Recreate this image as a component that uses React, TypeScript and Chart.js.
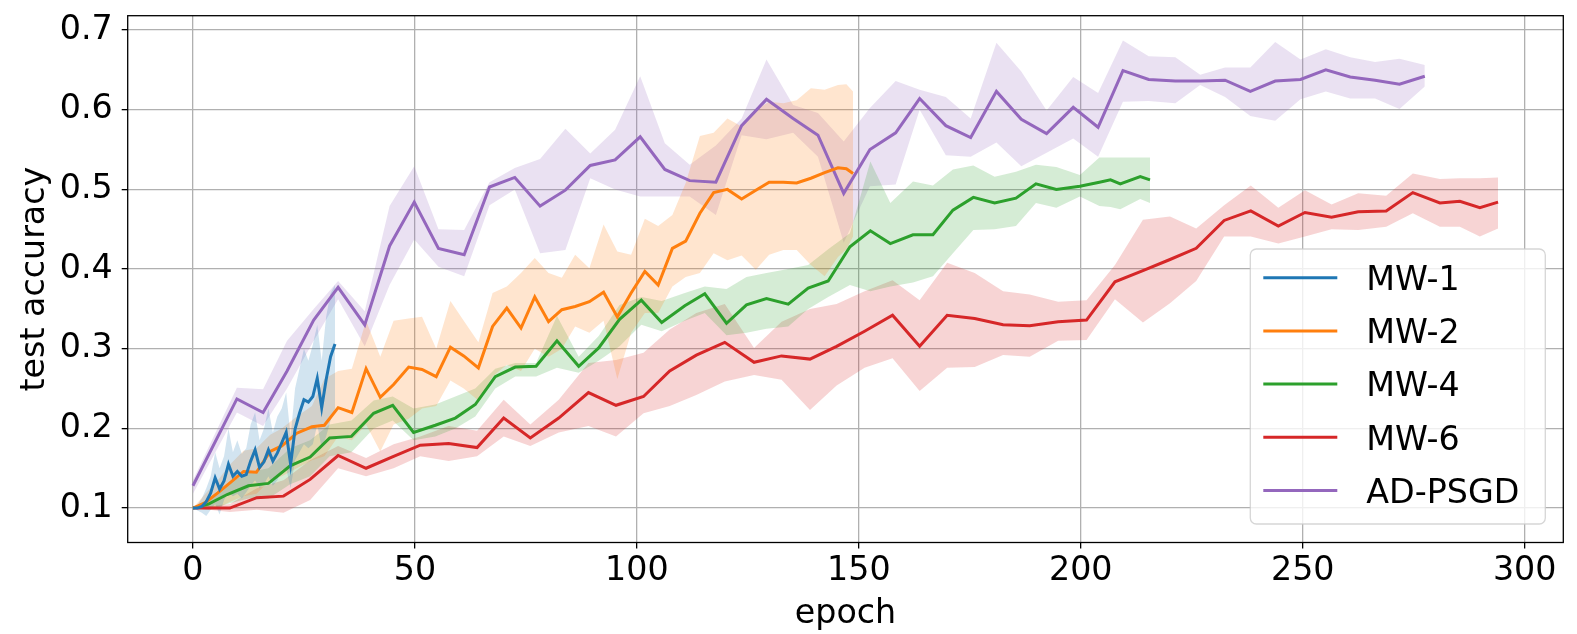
import { useEffect, useRef } from "react";
import Chart from "chart.js/auto";

// x-axis ticks / y-axis ticks
const epochTicks = [0, 50, 100, 150, 200, 250, 300];
const accTicks = [0.1, 0.2, 0.3, 0.4, 0.5, 0.6, 0.7];

const seriesNames = ["MW-1", "MW-2", "MW-4", "MW-6", "AD-PSGD"];
const seriesColors = ["#1f77b4", "#ff7f0e", "#2ca02c", "#d62728", "#9467bd"];

// MW-1
const mw1Epochs = [0, 1, 2, 3, 4, 5, 6, 7, 8, 9, 10, 11, 12, 13, 14, 15, 16, 17, 18, 19, 20, 21, 22, 23, 24, 25, 26, 27, 28, 29, 30, 31, 32];
const mw1Mean = [0.1, 0.1, 0.102, 0.108, 0.119, 0.138, 0.124, 0.134, 0.155, 0.14, 0.146, 0.14, 0.142, 0.159, 0.173, 0.151, 0.158, 0.173, 0.159, 0.169, 0.182, 0.195, 0.155, 0.199, 0.219, 0.236, 0.233, 0.24, 0.263, 0.226, 0.261, 0.29, 0.306];
const mw1Lo = [0.1, 0.097, 0.094, 0.09, 0.098, 0.105, 0.092, 0.11, 0.12, 0.115, 0.118, 0.112, 0.12, 0.128, 0.135, 0.125, 0.13, 0.14, 0.128, 0.135, 0.148, 0.15, 0.125, 0.16, 0.17, 0.18, 0.175, 0.18, 0.205, 0.175, 0.19, 0.21, 0.225];
const mw1Hi = [0.1, 0.104, 0.112, 0.125, 0.14, 0.17, 0.15, 0.165, 0.2, 0.17, 0.185, 0.168, 0.175, 0.205, 0.22, 0.185, 0.2, 0.225, 0.195, 0.215, 0.225, 0.245, 0.19, 0.25, 0.275, 0.3, 0.285, 0.305, 0.33, 0.285, 0.34, 0.37, 0.38];

// MW-2
const mw2Epochs = [0, 2.8, 5.6, 8.4, 11.4, 14.3, 17.4, 20, 23.4, 26.8, 29.6, 32.7, 35.8, 39, 42.2, 45.2, 48.6, 51.6, 54.8, 58, 61, 64.3, 67.5, 70.7, 73.9, 77, 80.1, 83.1, 86.1, 89.3, 92.5, 95.6, 98.7, 101.8, 104.8, 108, 111, 114.2, 117.3, 120.4, 123.6, 126.8, 129.8, 133, 136, 139.2, 142.3, 145.3, 147.2, 148.7];
const mw2Mean = [0.1, 0.107, 0.119, 0.132, 0.146, 0.145, 0.171, 0.178, 0.194, 0.202, 0.204, 0.226, 0.22, 0.275, 0.239, 0.255, 0.277, 0.274, 0.265, 0.302, 0.291, 0.276, 0.328, 0.351, 0.326, 0.365, 0.334, 0.349, 0.353, 0.359, 0.371, 0.34, 0.37, 0.397, 0.38, 0.426, 0.435, 0.47, 0.496, 0.5, 0.488, 0.499, 0.509, 0.509, 0.508, 0.514, 0.521, 0.527, 0.526, 0.52];
const mw2Lo = [0.1, 0.098, 0.1, 0.108, 0.115, 0.118, 0.135, 0.14, 0.15, 0.16, 0.165, 0.19, 0.185, 0.205, 0.171, 0.205, 0.212, 0.225, 0.228, 0.26, 0.25, 0.235, 0.265, 0.28, 0.272, 0.3, 0.29, 0.3, 0.328, 0.32, 0.335, 0.262, 0.32, 0.345, 0.345, 0.378, 0.39, 0.395, 0.42, 0.411, 0.417, 0.399, 0.418, 0.424, 0.424, 0.405, 0.391, 0.415, 0.425, 0.441];
const mw2Hi = [0.1, 0.118, 0.135, 0.155, 0.172, 0.175, 0.192, 0.2, 0.215, 0.228, 0.262, 0.272, 0.275, 0.335, 0.29, 0.335, 0.338, 0.34, 0.3, 0.36, 0.335, 0.308, 0.37, 0.378, 0.395, 0.414, 0.395, 0.389, 0.418, 0.401, 0.456, 0.422, 0.418, 0.463, 0.454, 0.468, 0.508, 0.567, 0.571, 0.589, 0.579, 0.6, 0.61, 0.608, 0.612, 0.627, 0.625, 0.631, 0.632, 0.623];

// MW-4
const mw4Epochs = [0, 3.5, 7.7, 12.5, 17, 21.9, 26.4, 30.8, 35.7, 40.7, 45, 49.7, 54.6, 59.1, 63.6, 68.1, 72.6, 77.3, 82, 86.9, 91.4, 96.1, 101, 105.6, 110.8, 115.3, 120.2, 124.7, 129.2, 134.1, 138.6, 143.1, 148, 152.6, 157.1, 162.2, 166.7, 171.2, 175.8, 180.6, 185.4, 189.9, 194.5, 199.8, 204.2, 206.7, 208.9, 213.4, 215.6];
const mw4Mean = [0.1, 0.105, 0.117, 0.128, 0.131, 0.153, 0.164, 0.188, 0.19, 0.219, 0.229, 0.195, 0.204, 0.213, 0.23, 0.265, 0.277, 0.278, 0.31, 0.278, 0.301, 0.337, 0.361, 0.333, 0.354, 0.369, 0.332, 0.355, 0.363, 0.356, 0.376, 0.385, 0.428, 0.448, 0.432, 0.443, 0.443, 0.474, 0.49, 0.483, 0.489, 0.507, 0.5, 0.504, 0.509, 0.512, 0.507, 0.516, 0.512];
const mw4Lo = [0.1, 0.098, 0.105, 0.112, 0.112, 0.13, 0.14, 0.165, 0.17, 0.2, 0.21, 0.185, 0.19, 0.2, 0.215, 0.25, 0.265, 0.265, 0.276, 0.27, 0.285, 0.303, 0.33, 0.322, 0.335, 0.345, 0.317, 0.32, 0.325, 0.328, 0.35, 0.365, 0.38, 0.372, 0.378, 0.383, 0.391, 0.42, 0.449, 0.45, 0.454, 0.483, 0.477, 0.491, 0.479, 0.478, 0.475, 0.488, 0.483];
const mw4Hi = [0.1, 0.112, 0.13, 0.145, 0.15, 0.175, 0.185, 0.205, 0.21, 0.235, 0.24, 0.225, 0.23, 0.24, 0.25, 0.275, 0.282, 0.282, 0.341, 0.29, 0.316, 0.355, 0.365, 0.36, 0.37, 0.378, 0.375, 0.39, 0.395, 0.4, 0.405, 0.425, 0.445, 0.535, 0.483, 0.51, 0.505, 0.525, 0.53, 0.516, 0.522, 0.531, 0.528, 0.518, 0.54, 0.54, 0.54, 0.54, 0.54];

// MW-6
const mw6Epochs = [0, 8.3, 14.4, 20.4, 26.4, 32.7, 39, 45.2, 51.2, 57.6, 64, 70, 76, 82.4, 89.1, 95.3, 101.5, 107.4, 113.4, 119.8, 126.4, 132.6, 139, 145, 151.3, 157.6, 163.7, 169.9, 176.1, 182.5, 188.5, 194.9, 201.3, 207.7, 214, 220.1, 226, 232.3, 238.3, 244.5, 250.5, 256.5, 262.5, 268.8, 274.8, 280.9, 285.4, 289.9, 294];
const mw6Mean = [0.1, 0.1, 0.113, 0.115, 0.136, 0.166, 0.15, 0.165, 0.179, 0.181, 0.176, 0.213, 0.188, 0.213, 0.245, 0.229, 0.24, 0.272, 0.292, 0.308, 0.283, 0.291, 0.287, 0.303, 0.322, 0.342, 0.303, 0.342, 0.338, 0.33, 0.329, 0.334, 0.336, 0.384, 0.398, 0.412, 0.426, 0.461, 0.473, 0.454, 0.471, 0.465, 0.472, 0.473, 0.496, 0.483, 0.485, 0.477, 0.484];
const mw6Lo = [0.1, 0.095, 0.098, 0.094, 0.11, 0.15, 0.14, 0.15, 0.165, 0.159, 0.165, 0.19, 0.178, 0.195, 0.203, 0.19, 0.219, 0.228, 0.242, 0.259, 0.267, 0.261, 0.223, 0.254, 0.276, 0.288, 0.247, 0.276, 0.277, 0.292, 0.29, 0.31, 0.311, 0.362, 0.333, 0.357, 0.385, 0.441, 0.441, 0.432, 0.441, 0.45, 0.449, 0.453, 0.47, 0.453, 0.453, 0.441, 0.451];
const mw6Hi = [0.1, 0.105, 0.125, 0.135, 0.16, 0.178, 0.163, 0.18, 0.19, 0.203, 0.197, 0.236, 0.205, 0.236, 0.282, 0.286, 0.295, 0.324, 0.345, 0.356, 0.301, 0.334, 0.35, 0.356, 0.372, 0.386, 0.361, 0.408, 0.395, 0.372, 0.368, 0.359, 0.361, 0.405, 0.462, 0.466, 0.451, 0.48, 0.505, 0.477, 0.499, 0.481, 0.495, 0.492, 0.52, 0.513, 0.514, 0.514, 0.515];

// AD-PSGD
const adEpochs = [0, 9.9, 15.8, 21.2, 27.2, 32.7, 38.7, 44.3, 49.85, 55.3, 61.1, 66.8, 72.5, 78.2, 83.9, 89.5, 95.1, 100.75, 106.3, 111.9, 117.8, 123.6, 129.2, 135.2, 140.8, 146.6, 152.5, 158.3, 163.7, 169.6, 175.2, 181, 186.6, 192.3, 198.3, 203.9, 209.5, 215.3, 221.3, 226.9, 232.5, 238.2, 243.8, 249.5, 255.2, 260.7, 266.3, 271.8, 277.5];
const adMean = [0.128, 0.237, 0.22, 0.272, 0.336, 0.377, 0.33, 0.429, 0.484, 0.426, 0.418, 0.503, 0.515, 0.479, 0.499, 0.53, 0.537, 0.566, 0.525, 0.511, 0.509, 0.58, 0.613, 0.589, 0.568, 0.495, 0.55, 0.571, 0.614, 0.58, 0.565, 0.623, 0.588, 0.57, 0.603, 0.578, 0.649, 0.638, 0.636, 0.636, 0.637, 0.623, 0.636, 0.638, 0.65, 0.641, 0.637, 0.632, 0.642];
const adLo = [0.118, 0.22, 0.203, 0.25, 0.31, 0.362, 0.303, 0.38, 0.437, 0.403, 0.391, 0.48, 0.5, 0.42, 0.424, 0.514, 0.5, 0.491, 0.491, 0.491, 0.468, 0.568, 0.563, 0.571, 0.541, 0.433, 0.504, 0.506, 0.6, 0.543, 0.541, 0.559, 0.529, 0.546, 0.564, 0.541, 0.61, 0.611, 0.608, 0.631, 0.616, 0.592, 0.586, 0.613, 0.623, 0.614, 0.614, 0.601, 0.629];
const adHi = [0.135, 0.251, 0.249, 0.31, 0.35, 0.385, 0.347, 0.479, 0.529, 0.45, 0.449, 0.509, 0.527, 0.538, 0.576, 0.545, 0.575, 0.642, 0.558, 0.531, 0.555, 0.589, 0.663, 0.606, 0.596, 0.56, 0.602, 0.636, 0.625, 0.616, 0.589, 0.684, 0.648, 0.599, 0.641, 0.621, 0.687, 0.667, 0.666, 0.644, 0.653, 0.653, 0.685, 0.663, 0.676, 0.666, 0.66, 0.664, 0.656];

const allEpochs = [mw1Epochs, mw2Epochs, mw4Epochs, mw6Epochs, adEpochs];
const allMeans = [mw1Mean, mw2Mean, mw4Mean, mw6Mean, adMean];
const allLo = [mw1Lo, mw2Lo, mw4Lo, mw6Lo, adLo];
const allHi = [mw1Hi, mw2Hi, mw4Hi, mw6Hi, adHi];

const FONT = "'DejaVu Sans', sans-serif";
const FONT_SIZE = 33.3;
const LINE_W = 3;

const toPoints = (xs: number[], ys: number[]) => xs.map((x, i) => ({ x, y: ys[i] }));

const hexToRgba = (hex: string, a: number) => {
  const n = parseInt(hex.slice(1), 16);
  return `rgba(${(n >> 16) & 255}, ${(n >> 8) & 255}, ${n & 255}, ${a})`;
};

// full black frame around the axes, like matplotlib spines
const framePlugin = {
  id: "frame",
  afterDatasetsDraw(chart: Chart) {
    const { ctx, chartArea } = chart;
    ctx.save();
    ctx.strokeStyle = "#000";
    ctx.lineWidth = 1.3;
    ctx.strokeRect(chartArea.left, chartArea.top, chartArea.right - chartArea.left, chartArea.bottom - chartArea.top);
    ctx.restore();
  },
};

// legend box in the lower right of the plot area
const boxLegendPlugin = {
  id: "boxLegend",
  afterDraw(chart: Chart) {
    const { ctx, chartArea } = chart;
    const w = 295;
    const h = 275;
    const x0 = chartArea.right - 18 - w;
    const y0 = chartArea.bottom - 18.5 - h;
    ctx.save();
    ctx.beginPath();
    ctx.roundRect(x0, y0, w, h, 6);
    ctx.fillStyle = "rgba(255, 255, 255, 0.8)";
    ctx.fill();
    ctx.strokeStyle = "rgba(204, 204, 204, 0.8)";
    ctx.lineWidth = 1.3;
    ctx.stroke();

    ctx.font = `${FONT_SIZE}px ${FONT}`;
    ctx.textAlign = "left";
    ctx.textBaseline = "alphabetic";
    seriesNames.forEach((name, i) => {
      const y = y0 + 28.7 + i * 53.2;
      ctx.beginPath();
      ctx.moveTo(x0 + 13, y);
      ctx.lineTo(x0 + 87, y);
      ctx.strokeStyle = seriesColors[i];
      ctx.lineWidth = LINE_W;
      ctx.stroke();
      ctx.fillStyle = "#000";
      ctx.fillText(name, x0 + 116, y + 12.2);
    });
    ctx.restore();
  },
};

const AccuracyChart = () => {
  const chartRef = useRef<HTMLCanvasElement>(null);
  const chartInstance = useRef<Chart | null>(null);

  useEffect(() => {
    if (!chartRef.current) return;

    if (chartInstance.current) {
      chartInstance.current.destroy();
    }

    const ctx = chartRef.current.getContext("2d");
    if (!ctx) return;

    const lineSets = seriesNames.map((name, i) => ({
      label: name,
      data: toPoints(allEpochs[i], allMeans[i]),
      borderColor: seriesColors[i],
      borderWidth: LINE_W,
      pointRadius: 0,
      fill: false,
      order: 0,
    }));

    const bandSets = seriesNames.flatMap((name, i) => [
      {
        label: `${name} hi`,
        data: toPoints(allEpochs[i], allHi[i]),
        borderWidth: 0,
        borderColor: "rgba(0,0,0,0)",
        pointRadius: 0,
        backgroundColor: hexToRgba(seriesColors[i], 0.2),
        fill: "+1",
        order: 5,
      },
      {
        label: `${name} lo`,
        data: toPoints(allEpochs[i], allLo[i]),
        borderWidth: 0,
        borderColor: "rgba(0,0,0,0)",
        pointRadius: 0,
        fill: false,
        order: 5,
      },
    ]);

    const tickFont = { family: FONT, size: FONT_SIZE };

    chartInstance.current = new Chart(ctx, {
      type: "line",
      data: { datasets: [...lineSets, ...bandSets] as any },
      options: {
        animation: false,
        responsive: true,
        maintainAspectRatio: false,
        layout: { padding: { top: 15.7, right: 13.7, left: 0, bottom: 0 } },
        elements: { line: { tension: 0 } },
        plugins: {
          legend: { display: false },
          tooltip: { enabled: false },
        },
        scales: {
          x: {
            type: "linear",
            min: -14.7,
            max: 308.7,
            afterBuildTicks: (scale: any) => {
              scale.ticks = epochTicks.map((value) => ({ value }));
            },
            afterFit: (scale: any) => {
              scale.height = 91.5;
              scale.paddingLeft = 0;
              scale.paddingRight = 0;
            },
            grid: {
              color: "#b0b0b0",
              lineWidth: 1.3,
              tickColor: "#000",
              tickLength: 6,
              tickWidth: 1.3,
            },
            border: { display: false },
            ticks: {
              font: tickFont,
              color: "#000",
              padding: 3,
              maxRotation: 0,
              autoSkip: false,
            },
            title: {
              display: true,
              text: "epoch",
              font: tickFont,
              color: "#000",
              padding: { top: 0, bottom: 0 },
            },
          },
          y: {
            type: "linear",
            min: 0.0568,
            max: 0.718,
            afterBuildTicks: (scale: any) => {
              scale.ticks = accTicks.map((value) => ({ value }));
            },
            afterFit: (scale: any) => {
              scale.width = 127.7;
              scale.paddingTop = 0;
              scale.paddingBottom = 0;
            },
            grid: {
              color: "#b0b0b0",
              lineWidth: 1.3,
              tickColor: "#000",
              tickLength: 6,
              tickWidth: 1.3,
            },
            border: { display: false },
            ticks: {
              font: tickFont,
              color: "#000",
              padding: 9,
              callback: (v: any) => Number(v).toFixed(1),
            },
            title: {
              display: true,
              text: "test accuracy",
              font: tickFont,
              color: "#000",
              padding: { top: 15.5, bottom: 0 },
            },
          },
        },
      },
      plugins: [framePlugin, boxLegendPlugin],
    });

    return () => {
      if (chartInstance.current) {
        chartInstance.current.destroy();
        chartInstance.current = null;
      }
    };
  }, []);

  return (
    <div style={{ position: "fixed", left: 0, top: 0, width: 1577, height: 634, background: "#fff" }}>
      <canvas ref={chartRef} />
    </div>
  );
};

export default function App() {
  return <AccuracyChart />;
}
